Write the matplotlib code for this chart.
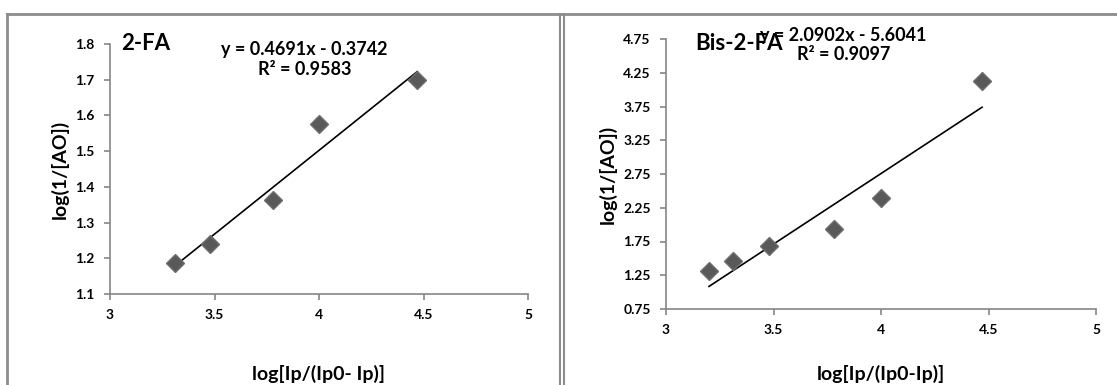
import numpy as np
import matplotlib.pyplot as plt
from matplotlib.lines import Line2D

plt.rcParams['font.family'] = ['Lato', 'DejaVu Sans']
plt.rcParams['font.weight'] = 'bold'

# data
x_fa = [3.31, 3.48, 3.78, 4.0, 4.47]
y_fa = [1.187, 1.240, 1.362, 1.575, 1.698]
fit_fa = (0.4691, -0.3742)

x_bis = [3.20, 3.31, 3.48, 3.78, 4.0, 4.47]
y_bis = [1.31, 1.46, 1.68, 1.93, 2.40, 4.13]
fit_bis = (2.0902, -5.6041)

xticks = [3, 3.5, 4, 4.5, 5]
yticks_fa = [1.1, 1.2, 1.3, 1.4, 1.5, 1.6, 1.7, 1.8]
yticks_bis = [0.75, 1.25, 1.75, 2.25, 2.75, 3.25, 3.75, 4.25, 4.75]

W, H = 1117, 385
fig = plt.figure(figsize=(W / 100, H / 100), dpi=100)

def px(l, t, r, b):
    return [l / W, 1 - b / H, (r - l) / W, (b - t) / H]

gray = '#868686'


def panel(rect, xs, ys, fit, yticks, ylab, xlab, yfmt):
    ax = fig.add_axes(px(*rect))
    ax.plot(xs, ys, 'D', color='#595959', ms=9.5, mec='#6e6e6e', zorder=3)
    xx = np.array([min(xs), max(xs)])
    ax.plot(xx, fit[0] * xx + fit[1], color='black', lw=1.2, zorder=2)
    ax.set_xlim(3, 5)
    ax.set_ylim(yticks[0], yticks[-1])
    ax.set_xticks(xticks)
    ax.set_xticklabels(['3', '3.5', '4', '4.5', '5'], fontweight='bold')
    ax.set_yticks(yticks)
    ax.set_yticklabels([yfmt.format(v) for v in yticks], fontweight='bold')
    for s in ['top', 'right']:
        ax.spines[s].set_visible(False)
    for s in ['left', 'bottom']:
        ax.spines[s].set_color(gray)
        ax.spines[s].set_linewidth(1.2)
    ax.tick_params(direction='out', length=4, width=1.2, color=gray,
                   labelsize=10, pad=7)
    ax.set_ylabel(ylab, fontsize=14, fontweight='bold', labelpad=5)
    ax.set_xlabel(xlab, fontsize=14, fontweight='bold')
    # x label sits near the bottom edge of the figure
    b = rect[3]
    ax.xaxis.set_label_coords(0.5, -(374 - b) / (b - rect[1]))
    ax.xaxis.label.set_va('center')
    return ax


ax1 = panel((110, 44, 528, 294), x_fa, y_fa, fit_fa, yticks_fa,
            'log(1/[AO])', 'log[Ip/(Ip0- Ip)]', '{:.1f}')
ax1.text(3.055, 1.8, '2-FA', fontsize=16, fontweight='bold', va='center')
ax1.text(3.93, 1.757, 'y = 0.4691x - 0.3742\nR² = 0.9583', fontsize=13,
         fontweight='bold', ha='center', va='center', linespacing=1.2)

ax2 = panel((666, 39, 1096, 309), x_bis, y_bis, fit_bis, yticks_bis,
            'log(1/[AO])', 'log[Ip/(Ip0-Ip)]', '{:.2f}')
ax2.text(3.135, 4.69, 'Bis-2-FA', fontsize=16, fontweight='bold', va='center')
ax2.text(3.826, 4.66, 'y = 2.0902x - 5.6041\nR² = 0.9097', fontsize=13,
         fontweight='bold', ha='center', va='center', linespacing=1.2)

# chart borders
for xs_, ys_, lw in [([7 / W, 7 / W], [0, 1 - 14 / H], 2),
                     ([7 / W, 1], [1 - 14 / H, 1 - 14 / H], 2),
                     ([560 / W, 560 / W], [0, 1 - 14 / H], 1.5),
                     ([564 / W, 564 / W], [0, 1 - 14 / H], 1.5)]:
    fig.add_artist(Line2D(xs_, ys_, color='#8c8c8c', lw=lw))

fig.savefig('out.png', dpi=100)
